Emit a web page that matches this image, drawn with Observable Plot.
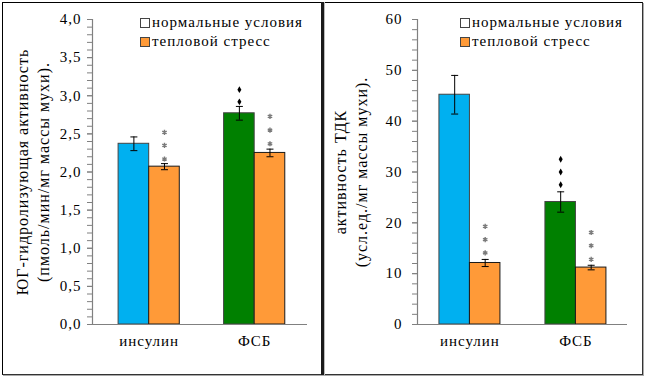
<!DOCTYPE html>
<html><head><meta charset="utf-8">
<script src="https://cdn.jsdelivr.net/npm/d3@7"></script>
<script src="https://cdn.jsdelivr.net/npm/@observablehq/plot@0.6"></script>
<style>
body{margin:0;background:#fff;}
#wrap{position:relative;width:647px;height:379px;overflow:hidden;font-family:"Liberation Serif","Times New Roman",serif;}
.panel{position:absolute;top:0;}
.legend{position:absolute;font-size:15px;letter-spacing:1px;color:#000;line-height:19px;white-space:nowrap;}
.legend .row{display:flex;align-items:center;height:19px;}
.legend .sw{width:8px;height:8px;border:1px solid #444;margin-right:2px;box-sizing:content-box;}
.outer{position:absolute;left:2px;top:2px;width:641px;height:373px;border:1px solid #000;border-right-color:#333;border-bottom-color:#333;box-sizing:border-box;box-shadow:1px 1px 0 #aaa;}
.divider{position:absolute;left:321px;top:2px;width:3px;height:373px;background:#1a1a1a;box-shadow:1px 0 0 #bbb;}
</style></head>
<body><div id="wrap"></div>
<script>
// ---- shared categories & legend ----
const categories = ["инсулин", "ФСБ"];
const conditions = ["нормальные условия", "тепловой стресс"];
const normalColors = ["#00B0F0", "#008000"];
const stressColor = "#FF9A38";

// ---- left panel: ЮГ-гидролизующая активность ----
const leftTitle = "ЮГ-гидролизующая активность\n(пмоль/мин/мг массы мухи).";
const leftNormalMean = [2.37, 2.77];
const leftNormalErr = [0.09, 0.09];
const leftStressMean = [2.07, 2.25];
const leftStressErr = [0.04, 0.05];
const leftDiamonds = [[], [2.92, 3.08]];
const leftAsterisks = [[2.17, 2.35, 2.52], [2.37, 2.55, 2.73]];
const leftMajorTicks = [0, 0.5, 1, 1.5, 2, 2.5, 3, 3.5, 4];
const leftMinorTicks = d3.range(0, 41).map(i => i / 10);

// ---- right panel: активность ТДК ----
const rightTitle = "активность ТДК\n(усл.ед./мг массы мухи).";
const rightNormalMean = [45.2, 24.1];
const rightNormalErr = [3.8, 2.0];
const rightStressMean = [12.1, 11.2];
const rightStressErr = [0.7, 0.45];
const rightDiamonds = [[], [27.5, 30.0, 32.5]];
const rightAsterisks = [[14.1, 16.7, 19.3], [12.8, 15.5, 18.1]];
const rightMajorTicks = [0, 10, 20, 30, 40, 50, 60];
const rightMinorTicks = d3.range(0, 31).map(i => i * 2);

const FONT = '"Liberation Serif", "Times New Roman", serif';

const capSymbol = {
  draw(context, size) {
    const r = Math.sqrt(size / Math.PI);
    context.moveTo(-r, 0);
    context.lineTo(r, 0);
  }
};

function panel(cfg) {
  const W = cfg.width, H = 379;
  const xOpt = {domain: categories, paddingInner: cfg.pi, paddingOuter: cfg.po, align: cfg.align, round: false};
  const bw = d3.scaleBand().domain(categories).range([cfg.ml, W - cfg.mr])
    .paddingInner(cfg.pi).paddingOuter(cfg.po).align(cfg.align).bandwidth();
  const normal = categories.map((c, i) => ({cat: c, mean: cfg.nMean[i], err: cfg.nErr[i], fill: normalColors[i]}));
  const stress = categories.map((c, i) => ({cat: c, mean: cfg.sMean[i], err: cfg.sErr[i], fill: stressColor}));
  const diamonds = categories.flatMap((c, i) => cfg.diamonds[i].map(y => ({cat: c, y})));
  const asterisks = categories.flatMap((c, i) => cfg.asterisks[i].map(y => ({cat: c, y})));
  const q = bw / 4;
  const errMarks = (rows, dx) => [
    Plot.ruleX(rows, {x: "cat", y1: d => d.mean - d.err, y2: d => d.mean + d.err, dx, stroke: "#000", strokeWidth: 1}),
    Plot.dot(rows, {x: "cat", y: d => d.mean + d.err, dx, symbol: capSymbol, r: 3.5, stroke: "#000", strokeWidth: 1}),
    Plot.dot(rows, {x: "cat", y: d => d.mean - d.err, dx, symbol: capSymbol, r: 3.5, stroke: "#000", strokeWidth: 1})
  ];
  const fmt = cfg.fmt;
  return Plot.plot({
    width: W, height: H,
    marginLeft: cfg.ml, marginRight: cfg.mr, marginTop: 19, marginBottom: 55,
    style: {fontFamily: FONT, fontSize: "15px", background: "transparent", letterSpacing: "1px", color: "#000"},
    x: xOpt,
    y: {domain: cfg.domain},
    color: {type: "identity"},
    marks: [
      Plot.barY(normal, {x: "cat", y: "mean", fill: "fill", stroke: "#444", strokeWidth: 1, insetRight: bw / 2}),
      Plot.barY(stress, {x: "cat", y: "mean", fill: "fill", stroke: "#1a1a1a", strokeWidth: 1, insetLeft: bw / 2}),
      ...errMarks(normal, -q),
      ...errMarks(stress, q),
      Plot.dot(diamonds, {x: "cat", y: "y", dx: -q, symbol: "diamond", r: 2.1, fill: "#000"}),
      Plot.dot(asterisks, {x: "cat", y: "y", dx: q, symbol: "asterisk", r: 2.4, stroke: "#7a7a7a", strokeWidth: 1.4}),
      Plot.ruleY([cfg.domain[0]], {stroke: "#808080", strokeWidth: 1.2}),
      Plot.frame({anchor: "left", stroke: "#808080", strokeWidth: 1.2}),
      Plot.axisY({ticks: cfg.minor, text: null, tickSize: 5, stroke: "#808080", label: null}),
      Plot.axisY({ticks: cfg.major, tickSize: 5, stroke: "#808080", tickPadding: cfg.tp, tickFormat: fmt, label: null, fontFamily: FONT}),
      Plot.axisX({tickSize: 0, tickPadding: 11, label: null, fontFamily: FONT}),
      Plot.text([cfg.title], {frameAnchor: "left", dx: cfg.titleDx, rotate: -90, textAnchor: "middle", lineAnchor: "middle", lineHeight: 1.3, fontSize: 16, fontFamily: FONT})
    ]
  });
}

const wrap = document.getElementById("wrap");

const left = panel({
  width: 323, ml: 92, mr: 16, pi: 0.42, po: 0.229, align: 0.54, tp: 6,
  nMean: leftNormalMean, nErr: leftNormalErr, sMean: leftStressMean, sErr: leftStressErr,
  diamonds: leftDiamonds, asterisks: leftAsterisks, domain: [0, 4],
  major: leftMajorTicks, minor: leftMinorTicks, fmt: d => d.toFixed(1).replace(".", ","),
  title: leftTitle, titleDx: -61
});
left.classList.add("panel");
left.style.left = "0px";
wrap.appendChild(left);

const right = panel({
  width: 324, ml: 94, mr: 20, pi: 0.4245, po: 0.2028, align: 0.51, tp: 10,
  nMean: rightNormalMean, nErr: rightNormalErr, sMean: rightStressMean, sErr: rightStressErr,
  diamonds: rightDiamonds, asterisks: rightAsterisks, domain: [0, 60],
  major: rightMajorTicks, minor: rightMinorTicks, fmt: d => String(d),
  title: rightTitle, titleDx: -68
});
right.classList.add("panel");
right.style.left = "323px";
wrap.appendChild(right);

function legend(x) {
  const div = document.createElement("div");
  div.className = "legend";
  div.style.left = x + "px";
  div.style.top = "13px";
  const fills = ["#fff", stressColor];
  conditions.forEach((c, i) => {
    const row = document.createElement("div");
    row.className = "row";
    const sw = document.createElement("span");
    sw.className = "sw";
    sw.style.background = fills[i];
    const t = document.createElement("span");
    t.textContent = c;
    row.appendChild(sw); row.appendChild(t);
    div.appendChild(row);
  });
  wrap.appendChild(div);
}
legend(140);
legend(460);

const outer = document.createElement("div"); outer.className = "outer"; wrap.appendChild(outer);
const divider = document.createElement("div"); divider.className = "divider"; wrap.appendChild(divider);
</script>
</body></html>
